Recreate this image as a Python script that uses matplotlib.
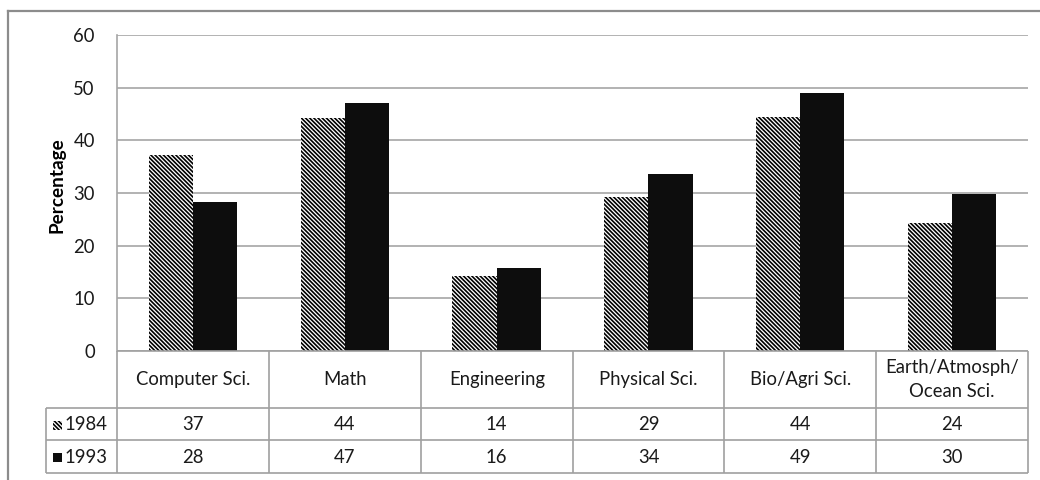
import matplotlib
matplotlib.use("Agg")
import matplotlib.pyplot as plt
from matplotlib.patches import Rectangle
from matplotlib.lines import Line2D

categories = ["Computer Sci.", "Math", "Engineering", "Physical Sci.",
              "Bio/Agri Sci.", "Earth/Atmosph/\nOcean Sci."]
series_names = ["1984", "1993"]
values_1984 = [37.2, 44.2, 14.2, 29.2, 44.4, 24.3]
values_1993 = [28.2, 47.1, 15.8, 33.6, 49.0, 29.9]
yticks = [0, 10, 20, 30, 40, 50, 60]

plt.rcParams['font.family'] = ['Lato', 'DejaVu Sans']
plt.rcParams['hatch.linewidth'] = 1.2
plt.rcParams['hatch.color'] = 'black'

W, H = 1040, 480
fig = plt.figure(figsize=(W / 100, H / 100), dpi=100)
fig.patch.set_facecolor('white')

# fit font size so the category text width matches the reference (~115 px)
renderer = fig.canvas.get_renderer()
probe = fig.text(0, 0, "Computer Sci.", fontsize=10)
w10 = probe.get_window_extent(renderer).width
probe.remove()
fs = 10 * 115.0 / w10

grid_c = '#a6a6a6'
text_c = '#1a1a1a'
hatch = '\\' * 8

# outer frame (left and top edges visible)
fig.add_artist(Line2D([8 / W, 8 / W], [0, 1 - 11 / H], transform=fig.transFigure,
                      color='#8c8c8c', lw=1.6))
fig.add_artist(Line2D([8 / W, 1], [1 - 11 / H, 1 - 11 / H], transform=fig.transFigure,
                      color='#8c8c8c', lw=1.6))

# plot area
x0, x1 = 117, 1028
y_top, y_bot = 35, 351
ax = fig.add_axes([x0 / W, 1 - y_bot / H, (x1 - x0) / W, (y_bot - y_top) / H])
n = len(categories)
ax.set_xlim(0, n)
ax.set_ylim(0, 60)
ax.set_yticks(yticks)
ax.set_yticklabels([str(t) for t in yticks], fontsize=fs, color=text_c)
ax.tick_params(axis='y', length=0, pad=16)
ax.set_xticks([])
for s in ['top', 'right', 'bottom']:
    ax.spines[s].set_visible(False)
ax.spines['left'].set_color(grid_c)
ax.spines['left'].set_linewidth(1.2)
ax.yaxis.grid(True, color=grid_c, lw=1.2)
ax.set_axisbelow(True)
ax.set_ylabel("Percentage", fontsize=fs * 1.02, fontweight='bold', labelpad=7,
              color='black')
ax.yaxis.set_label_coords(-0.057, 0.525)

bw = 44 / 151
centers = [i + 0.5 for i in range(n)]
ax.bar([c - bw / 2 for c in centers], values_1984, width=bw, color='white',
       edgecolor='black', linewidth=0, hatch=hatch, zorder=3)
ax.bar([c + bw / 2 for c in centers], values_1993, width=bw, color='#0d0d0d',
       edgecolor='#0d0d0d', linewidth=0, zorder=3)

# data table
lab_left = 46
t_top, t_h1, t_r1, t_bot = 351, 408, 440, 473
lab_w = (x0 - lab_left) / 151
tax = fig.add_axes([lab_left / W, 1 - t_bot / H, (x1 - lab_left) / W, (t_bot - t_top) / H])
tax.set_xlim(-lab_w, n)
tax.set_ylim(t_bot, t_top)
tax.axis('off')

lc = '#a0a0a0'
lw = 1.2
def hl(y, xa, xb):
    tax.plot([xa, xb], [y, y], color=lc, lw=lw, clip_on=False, solid_capstyle='butt')
def vl(x, ya, yb):
    tax.plot([x, x], [ya, yb], color=lc, lw=lw, clip_on=False, solid_capstyle='butt')

hl(t_top, 0, n)
for y in (t_h1, t_r1, t_bot):
    hl(y, -lab_w, n)
for i in range(n + 1):
    vl(i, t_top, t_bot)
vl(-lab_w, t_h1, t_bot)

for i, cat in enumerate(categories):
    tax.text(i + 0.5, (t_top + t_h1) / 2, cat, ha='center', va='center',
             fontsize=fs, color=text_c, linespacing=1.45)
    tax.text(i + 0.5, (t_h1 + t_r1) / 2 + 1, f"{round(values_1984[i])}", ha='center',
             va='center', fontsize=fs, color=text_c)
    tax.text(i + 0.5, (t_r1 + t_bot) / 2 + 1, f"{round(values_1993[i])}", ha='center',
             va='center', fontsize=fs, color=text_c)

# legend keys in row labels
sq = 9 / 151
sqh = 9
key_x = -lab_w + 7 / 151
for (ya, yb), name, style in [((t_h1, t_r1), series_names[0], 'hatch'),
                              ((t_r1, t_bot), series_names[1], 'solid')]:
    yc = (ya + yb) / 2 + 1
    if style == 'hatch':
        p = Rectangle((key_x, yc - sqh / 2), sq, sqh, facecolor='white', edgecolor='black',
                      lw=0, hatch=hatch)
    else:
        p = Rectangle((key_x, yc - sqh / 2), sq, sqh, facecolor='#0d0d0d', lw=0)
    tax.add_patch(p)
    tax.text(key_x + sq + 2 / 151, yc, name, ha='left', va='center', fontsize=fs,
             color=text_c)

fig.savefig("out.png", dpi=100, facecolor='white')
